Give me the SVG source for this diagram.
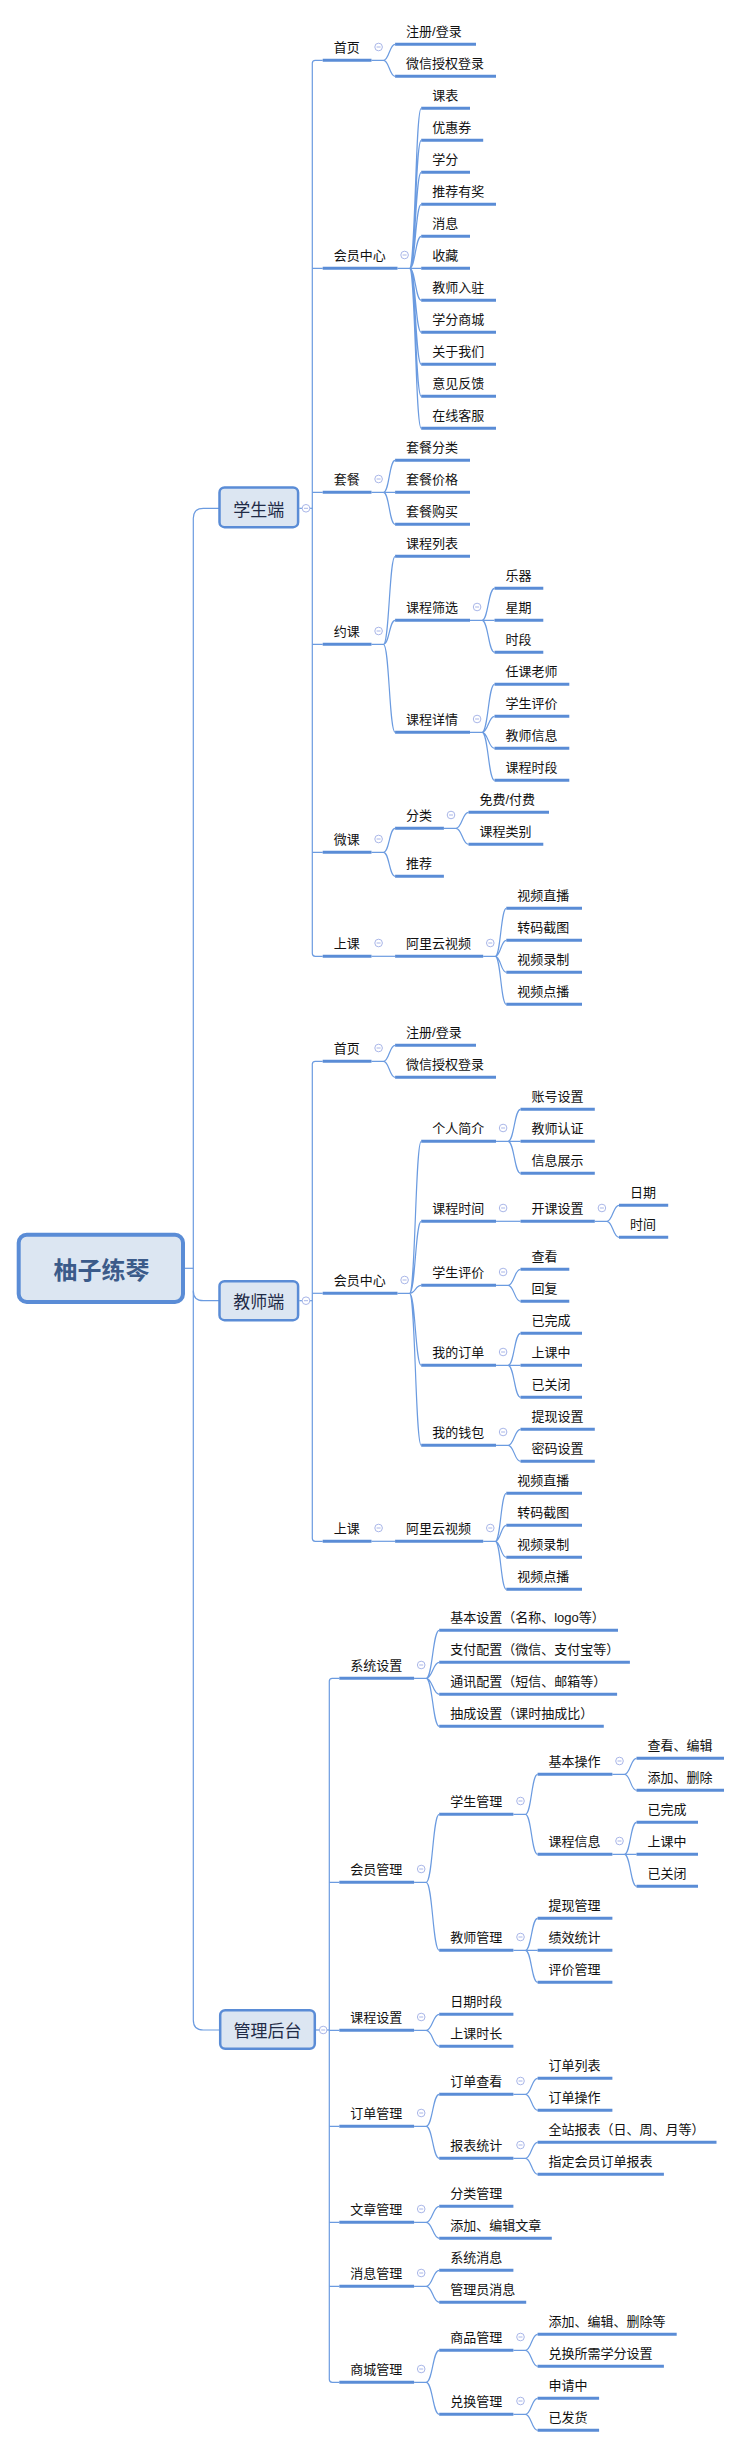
<svg xmlns="http://www.w3.org/2000/svg" xmlns:xlink="http://www.w3.org/1999/xlink" width="742" height="2447" viewBox="0 0 742 2447">
<defs>
<style>
text{font-family:"Liberation Sans","Noto Sans CJK SC",sans-serif;font-size:13px;fill:#111}
.u{stroke:#5a8cd6;stroke-width:3;fill:none}
.c{stroke:#6b9be0;stroke-width:1.2;fill:none}
.box{fill:#dce6f2;stroke:#5a8cd6;stroke-width:2.5}
.bt{font-size:17px;fill:#1f2b47;text-anchor:middle}
.rt{font-size:24px;font-weight:bold;fill:#3b5b8a;text-anchor:middle}
.col circle{fill:#fff;stroke:#a9b6e8;stroke-width:1}
.col path{stroke:#a9b6e8;stroke-width:1}
</style>
<g id="col" class="col"><circle r="3.8"/><path d="M-2 0H2"/></g>
</defs>
<rect width="742" height="2447" fill="#fff"/>

<g id="connectors">
<!-- root -->
<path class="c" d="M184.6 1268.3H193.3"/>
<path class="c" d="M219 508.3H203.3Q193.3 508.3 193.3 518.3V2020Q193.3 2030 203.3 2030H219"/>
<path class="c" d="M193.3 1290.7Q193.3 1300.7 203.3 1300.7H219"/>
<!-- student level1 -->
<path class="c" d="M299.3 508.3H312.3"/>
<path class="c" d="M322.7 60.3H315.3Q312.3 60.3 312.3 63.3V953.3Q312.3 956.3 315.3 956.3H322.7"/>
<path class="c" d="M312.3 268.3H322.7M312.3 492.3H322.7M312.3 644.3H322.7M312.3 852.3H322.7"/>
<!-- student 首页 -->
<path class="c" d="M371.5 60.3H383.5M383.5 60.3C389.3 60.3 389.3 44.3 395.1 44.3M383.5 60.3C389.3 60.3 389.3 76.3 395.1 76.3"/>
<!-- student 会员中心 -->
<path class="c" d="M397.5 268.3H421.2M409.5 268.3C415.4 268.3 415.4 108.3 421.2 108.3M409.5 268.3C415.4 268.3 415.4 140.3 421.2 140.3M409.5 268.3C415.4 268.3 415.4 172.3 421.2 172.3M409.5 268.3C415.4 268.3 415.4 204.3 421.2 204.3M409.5 268.3C415.4 268.3 415.4 236.3 421.2 236.3M409.5 268.3C415.4 268.3 415.4 300.3 421.2 300.3M409.5 268.3C415.4 268.3 415.4 332.3 421.2 332.3M409.5 268.3C415.4 268.3 415.4 364.3 421.2 364.3M409.5 268.3C415.4 268.3 415.4 396.3 421.2 396.3M409.5 268.3C415.4 268.3 415.4 428.3 421.2 428.3"/>
<!-- 套餐 -->
<path class="c" d="M371.5 492.3H395.1M383.5 492.3C389.3 492.3 389.3 460.3 395.1 460.3M383.5 492.3C389.3 492.3 389.3 524.3 395.1 524.3"/>
<!-- 约课 -->
<path class="c" d="M371.5 644.3H383.5M383.5 644.3C389.3 644.3 389.3 556.3 395.1 556.3M383.5 644.3C389.3 644.3 389.3 620.3 395.1 620.3M383.5 644.3C389.3 644.3 389.3 732.3 395.1 732.3"/>
<path class="c" d="M470 620.3H494.5M482 620.3C488.3 620.3 488.3 588.3 494.5 588.3M482 620.3C488.3 620.3 488.3 652.3 494.5 652.3"/>
<path class="c" d="M470 732.3H482M482 732.3C488.3 732.3 488.3 684.3 494.5 684.3M482 732.3C488.3 732.3 488.3 716.3 494.5 716.3M482 732.3C488.3 732.3 488.3 748.3 494.5 748.3M482 732.3C488.3 732.3 488.3 780.3 494.5 780.3"/>
<!-- 微课 -->
<path class="c" d="M371.5 852.3H383.5M383.5 852.3C389.3 852.3 389.3 828.3 395.1 828.3M383.5 852.3C389.3 852.3 389.3 876.3 395.1 876.3"/>
<path class="c" d="M443.9 828.3H455.9M455.9 828.3C462.2 828.3 462.2 812.3 468.5 812.3M455.9 828.3C462.2 828.3 462.2 844.3 468.5 844.3"/>
<!-- 上课 student -->
<path class="c" d="M371.5 956.3H395.1"/>
<path class="c" d="M483.2 956.3H495.2M495.2 956.3C500.8 956.3 500.8 908.3 506.3 908.3M495.2 956.3C500.8 956.3 500.8 940.3 506.3 940.3M495.2 956.3C500.8 956.3 500.8 972.3 506.3 972.3M495.2 956.3C500.8 956.3 500.8 1004.3 506.3 1004.3"/>

<!-- teacher level1 -->
<path class="c" d="M299.3 1300.7H312.3"/>
<path class="c" d="M322.7 1061.3H315.3Q312.3 1061.3 312.3 1064.3V1538.3Q312.3 1541.3 315.3 1541.3H322.7"/>
<path class="c" d="M312.3 1293.3H322.7"/>
<path class="c" d="M371.5 1061.3H383.5M383.5 1061.3C389.3 1061.3 389.3 1045.3 395.1 1045.3M383.5 1061.3C389.3 1061.3 389.3 1077.3 395.1 1077.3"/>
<path class="c" d="M397.5 1293.3H409.5M409.5 1293.3C415.4 1293.3 415.4 1141.3 421.2 1141.3M409.5 1293.3C415.4 1293.3 415.4 1221.3 421.2 1221.3M409.5 1293.3C415.4 1293.3 415.4 1285.3 421.2 1285.3M409.5 1293.3C415.4 1293.3 415.4 1365.3 421.2 1365.3M409.5 1293.3C415.4 1293.3 415.4 1445.3 421.2 1445.3"/>
<path class="c" d="M496 1141.3H520.5M508 1141.3C514.3 1141.3 514.3 1109.3 520.5 1109.3M508 1141.3C514.3 1141.3 514.3 1173.3 520.5 1173.3"/>
<path class="c" d="M496 1221.3H520.5"/>
<path class="c" d="M594.8 1221.3H606.8M606.8 1221.3C612.9 1221.3 612.9 1205.3 619 1205.3M606.8 1221.3C612.9 1221.3 612.9 1237.3 619 1237.3"/>
<path class="c" d="M496 1285.3H508M508 1285.3C514.3 1285.3 514.3 1269.3 520.5 1269.3M508 1285.3C514.3 1285.3 514.3 1301.3 520.5 1301.3"/>
<path class="c" d="M496 1365.3H520.5M508 1365.3C514.3 1365.3 514.3 1333.3 520.5 1333.3M508 1365.3C514.3 1365.3 514.3 1397.3 520.5 1397.3"/>
<path class="c" d="M496 1445.3H508M508 1445.3C514.3 1445.3 514.3 1429.3 520.5 1429.3M508 1445.3C514.3 1445.3 514.3 1461.3 520.5 1461.3"/>
<path class="c" d="M371.5 1541.3H395.1"/>
<path class="c" d="M483.2 1541.3H495.2M495.2 1541.3C500.8 1541.3 500.8 1493.3 506.3 1493.3M495.2 1541.3C500.8 1541.3 500.8 1525.3 506.3 1525.3M495.2 1541.3C500.8 1541.3 500.8 1557.3 506.3 1557.3M495.2 1541.3C500.8 1541.3 500.8 1589.3 506.3 1589.3"/>

<!-- admin level1 -->
<path class="c" d="M316 2030H329.3"/>
<path class="c" d="M339.3 1678.3H332.3Q329.3 1678.3 329.3 1681.3V2379.3Q329.3 2382.3 332.3 2382.3H339.3"/>
<path class="c" d="M329.3 1882.3H339.3M329.3 2030.3H339.3M329.3 2126.3H339.3M329.3 2222.3H339.3M329.3 2286.3H339.3"/>
<path class="c" d="M414.1 1678.3H426.1M426.1 1678.3C432.7 1678.3 432.7 1630.3 439.2 1630.3M426.1 1678.3C432.7 1678.3 432.7 1662.3 439.2 1662.3M426.1 1678.3C432.7 1678.3 432.7 1694.3 439.2 1694.3M426.1 1678.3C432.7 1678.3 432.7 1726.3 439.2 1726.3"/>
<path class="c" d="M414.1 1882.3H426.1M426.1 1882.3C432.7 1882.3 432.7 1814.3 439.2 1814.3M426.1 1882.3C432.7 1882.3 432.7 1950.3 439.2 1950.3"/>
<path class="c" d="M513.4 1814.3H525.4M525.4 1814.3C531.5 1814.3 531.5 1774.3 537.6 1774.3M525.4 1814.3C531.5 1814.3 531.5 1854.3 537.6 1854.3"/>
<path class="c" d="M612.4 1774.3H624.4M624.4 1774.3C630.5 1774.3 630.5 1758.3 636.5 1758.3M624.4 1774.3C630.5 1774.3 630.5 1790.3 636.5 1790.3"/>
<path class="c" d="M612.4 1854.3H636.5M624.4 1854.3C630.5 1854.3 630.5 1822.3 636.5 1822.3M624.4 1854.3C630.5 1854.3 630.5 1886.3 636.5 1886.3"/>
<path class="c" d="M513.4 1950.3H537.6M525.4 1950.3C531.5 1950.3 531.5 1918.3 537.6 1918.3M525.4 1950.3C531.5 1950.3 531.5 1982.3 537.6 1982.3"/>
<path class="c" d="M414.1 2030.3H426.1M426.1 2030.3C432.7 2030.3 432.7 2014.3 439.2 2014.3M426.1 2030.3C432.7 2030.3 432.7 2046.3 439.2 2046.3"/>
<path class="c" d="M414.1 2126.3H426.1M426.1 2126.3C432.7 2126.3 432.7 2094.3 439.2 2094.3M426.1 2126.3C432.7 2126.3 432.7 2158.3 439.2 2158.3"/>
<path class="c" d="M513.4 2094.3H525.4M525.4 2094.3C531.5 2094.3 531.5 2078.3 537.6 2078.3M525.4 2094.3C531.5 2094.3 531.5 2110.3 537.6 2110.3"/>
<path class="c" d="M513.4 2158.3H525.4M525.4 2158.3C531.5 2158.3 531.5 2142.3 537.6 2142.3M525.4 2158.3C531.5 2158.3 531.5 2174.3 537.6 2174.3"/>
<path class="c" d="M414.1 2222.3H426.1M426.1 2222.3C432.7 2222.3 432.7 2206.3 439.2 2206.3M426.1 2222.3C432.7 2222.3 432.7 2238.3 439.2 2238.3"/>
<path class="c" d="M414.1 2286.3H426.1M426.1 2286.3C432.7 2286.3 432.7 2270.3 439.2 2270.3M426.1 2286.3C432.7 2286.3 432.7 2302.3 439.2 2302.3"/>
<path class="c" d="M414.1 2382.3H426.1M426.1 2382.3C432.7 2382.3 432.7 2350.3 439.2 2350.3M426.1 2382.3C432.7 2382.3 432.7 2414.3 439.2 2414.3"/>
<path class="c" d="M513.4 2350.3H525.4M525.4 2350.3C531.5 2350.3 531.5 2334.3 537.6 2334.3M525.4 2350.3C531.5 2350.3 531.5 2366.3 537.6 2366.3"/>
<path class="c" d="M513.4 2414.3H525.4M525.4 2414.3C531.5 2414.3 531.5 2398.3 537.6 2398.3M525.4 2414.3C531.5 2414.3 531.5 2430.3 537.6 2430.3"/>
</g>

<!-- boxes -->
<g id="root"><rect class="box" x="18.7" y="1234.7" width="164.3" height="67.3" rx="8" style="stroke-width:4"/><text class="rt" x="101.6" y="1279">柚子练琴</text></g>
<g id="student"><rect class="box" x="219.5" y="487.5" width="78.6" height="39.7" rx="5"/><text class="bt" x="258.8" y="515.5">学生端</text><use xlink:href="#col" x="306" y="508.3"/></g>
<g id="teacher"><rect class="box" x="219.5" y="1281.2" width="78.6" height="39" rx="5"/><text class="bt" x="258.8" y="1307.5">教师端</text><use xlink:href="#col" x="306" y="1300.7"/></g>
<g id="admin"><rect class="box" x="220.2" y="2010.2" width="94.6" height="38.6" rx="5"/><text class="bt" x="267.5" y="2036.5">管理后台</text><use xlink:href="#col" x="323.2" y="2030"/></g>

<!-- student nodes -->
<g id="s-home"><path class="u" d="M322.7 60.3H371.5"/><text x="333.7" y="52.3">首页</text><use xlink:href="#col" x="378.6" y="47"/></g>
<g id="s-home-1"><path class="u" d="M395.1 44.3H476"/><text x="406.1" y="36.3">注册/登录</text></g>
<g id="s-home-2"><path class="u" d="M395.1 76.3H496"/><text x="406.1" y="68.3">微信授权登录</text></g>
<g id="s-member"><path class="u" d="M322.7 268.3H397.5"/><text x="333.7" y="260.3">会员中心</text><use xlink:href="#col" x="404.6" y="255"/></g>
<g id="s-m1"><path class="u" d="M421.2 108.3H470"/><text x="432.2" y="100.3">课表</text></g>
<g id="s-m2"><path class="u" d="M421.2 140.3H483.2"/><text x="432.2" y="132.3">优惠券</text></g>
<g id="s-m3"><path class="u" d="M421.2 172.3H470"/><text x="432.2" y="164.3">学分</text></g>
<g id="s-m4"><path class="u" d="M421.2 204.3H496"/><text x="432.2" y="196.3">推荐有奖</text></g>
<g id="s-m5"><path class="u" d="M421.2 236.3H470"/><text x="432.2" y="228.3">消息</text></g>
<g id="s-m6"><path class="u" d="M421.2 268.3H470"/><text x="432.2" y="260.3">收藏</text></g>
<g id="s-m7"><path class="u" d="M421.2 300.3H496"/><text x="432.2" y="292.3">教师入驻</text></g>
<g id="s-m8"><path class="u" d="M421.2 332.3H496"/><text x="432.2" y="324.3">学分商城</text></g>
<g id="s-m9"><path class="u" d="M421.2 364.3H496"/><text x="432.2" y="356.3">关于我们</text></g>
<g id="s-m10"><path class="u" d="M421.2 396.3H496"/><text x="432.2" y="388.3">意见反馈</text></g>
<g id="s-m11"><path class="u" d="M421.2 428.3H496"/><text x="432.2" y="420.3">在线客服</text></g>
<g id="s-pkg"><path class="u" d="M322.7 492.3H371.5"/><text x="333.7" y="484.3">套餐</text><use xlink:href="#col" x="378.6" y="479"/></g>
<g id="s-p1"><path class="u" d="M395.1 460.3H470"/><text x="406.1" y="452.3">套餐分类</text></g>
<g id="s-p2"><path class="u" d="M395.1 492.3H470"/><text x="406.1" y="484.3">套餐价格</text></g>
<g id="s-p3"><path class="u" d="M395.1 524.3H470"/><text x="406.1" y="516.3">套餐购买</text></g>
<g id="s-book"><path class="u" d="M322.7 644.3H371.5"/><text x="333.7" y="636.3">约课</text><use xlink:href="#col" x="378.6" y="631"/></g>
<g id="s-b1"><path class="u" d="M395.1 556.3H470"/><text x="406.1" y="548.3">课程列表</text></g>
<g id="s-b2"><path class="u" d="M395.1 620.3H470"/><text x="406.1" y="612.3">课程筛选</text><use xlink:href="#col" x="477.1" y="607"/></g>
<g id="s-b2-1"><path class="u" d="M494.5 588.3H543.3"/><text x="505.5" y="580.3">乐器</text></g>
<g id="s-b2-2"><path class="u" d="M494.5 620.3H543.3"/><text x="505.5" y="612.3">星期</text></g>
<g id="s-b2-3"><path class="u" d="M494.5 652.3H543.3"/><text x="505.5" y="644.3">时段</text></g>
<g id="s-b3"><path class="u" d="M395.1 732.3H470"/><text x="406.1" y="724.3">课程详情</text><use xlink:href="#col" x="477.1" y="719"/></g>
<g id="s-b3-1"><path class="u" d="M494.5 684.3H569.3"/><text x="505.5" y="676.3">任课老师</text></g>
<g id="s-b3-2"><path class="u" d="M494.5 716.3H569.3"/><text x="505.5" y="708.3">学生评价</text></g>
<g id="s-b3-3"><path class="u" d="M494.5 748.3H569.3"/><text x="505.5" y="740.3">教师信息</text></g>
<g id="s-b3-4"><path class="u" d="M494.5 780.3H569.3"/><text x="505.5" y="772.3">课程时段</text></g>
<g id="s-micro"><path class="u" d="M322.7 852.3H371.5"/><text x="333.7" y="844.3">微课</text><use xlink:href="#col" x="378.6" y="839"/></g>
<g id="s-mc1"><path class="u" d="M395.1 828.3H443.9"/><text x="406.1" y="820.3">分类</text><use xlink:href="#col" x="451" y="815"/></g>
<g id="s-mc1-1"><path class="u" d="M468.5 812.3H549"/><text x="479.5" y="804.3">免费/付费</text></g>
<g id="s-mc1-2"><path class="u" d="M468.5 844.3H543.3"/><text x="479.5" y="836.3">课程类别</text></g>
<g id="s-mc2"><path class="u" d="M395.1 876.3H443.9"/><text x="406.1" y="868.3">推荐</text></g>
<g id="s-class"><path class="u" d="M322.7 956.3H371.5"/><text x="333.7" y="948.3">上课</text><use xlink:href="#col" x="378.6" y="943"/></g>
<g id="s-ali"><path class="u" d="M395.1 956.3H483.2"/><text x="406.1" y="948.3">阿里云视频</text><use xlink:href="#col" x="490.3" y="943"/></g>
<g id="s-ali-1"><path class="u" d="M506.3 908.3H582"/><text x="517.3" y="900.3">视频直播</text></g>
<g id="s-ali-2"><path class="u" d="M506.3 940.3H582"/><text x="517.3" y="932.3">转码截图</text></g>
<g id="s-ali-3"><path class="u" d="M506.3 972.3H582"/><text x="517.3" y="964.3">视频录制</text></g>
<g id="s-ali-4"><path class="u" d="M506.3 1004.3H582"/><text x="517.3" y="996.3">视频点播</text></g>

<!-- teacher nodes -->
<g id="t-home"><path class="u" d="M322.7 1061.3H371.5"/><text x="333.7" y="1053.3">首页</text><use xlink:href="#col" x="378.6" y="1048"/></g>
<g id="t-home-1"><path class="u" d="M395.1 1045.3H476"/><text x="406.1" y="1037.3">注册/登录</text></g>
<g id="t-home-2"><path class="u" d="M395.1 1077.3H496"/><text x="406.1" y="1069.3">微信授权登录</text></g>
<g id="t-member"><path class="u" d="M322.7 1293.3H397.5"/><text x="333.7" y="1285.3">会员中心</text><use xlink:href="#col" x="404.6" y="1280"/></g>
<g id="t-m1"><path class="u" d="M421.2 1141.3H496"/><text x="432.2" y="1133.3">个人简介</text><use xlink:href="#col" x="503.1" y="1128"/></g>
<g id="t-m1-1"><path class="u" d="M520.5 1109.3H594.8"/><text x="531.5" y="1101.3">账号设置</text></g>
<g id="t-m1-2"><path class="u" d="M520.5 1141.3H594.8"/><text x="531.5" y="1133.3">教师认证</text></g>
<g id="t-m1-3"><path class="u" d="M520.5 1173.3H594.8"/><text x="531.5" y="1165.3">信息展示</text></g>
<g id="t-m2"><path class="u" d="M421.2 1221.3H496"/><text x="432.2" y="1213.3">课程时间</text><use xlink:href="#col" x="503.1" y="1208"/></g>
<g id="t-m2-1"><path class="u" d="M520.5 1221.3H594.8"/><text x="531.5" y="1213.3">开课设置</text><use xlink:href="#col" x="601.9" y="1208"/></g>
<g id="t-m2-1a"><path class="u" d="M619 1205.3H668.2"/><text x="630" y="1197.3">日期</text></g>
<g id="t-m2-1b"><path class="u" d="M619 1237.3H668.2"/><text x="630" y="1229.3">时间</text></g>
<g id="t-m3"><path class="u" d="M421.2 1285.3H496"/><text x="432.2" y="1277.3">学生评价</text><use xlink:href="#col" x="503.1" y="1272"/></g>
<g id="t-m3-1"><path class="u" d="M520.5 1269.3H569.3"/><text x="531.5" y="1261.3">查看</text></g>
<g id="t-m3-2"><path class="u" d="M520.5 1301.3H569.3"/><text x="531.5" y="1293.3">回复</text></g>
<g id="t-m4"><path class="u" d="M421.2 1365.3H496"/><text x="432.2" y="1357.3">我的订单</text><use xlink:href="#col" x="503.1" y="1352"/></g>
<g id="t-m4-1"><path class="u" d="M520.5 1333.3H582"/><text x="531.5" y="1325.3">已完成</text></g>
<g id="t-m4-2"><path class="u" d="M520.5 1365.3H582"/><text x="531.5" y="1357.3">上课中</text></g>
<g id="t-m4-3"><path class="u" d="M520.5 1397.3H582"/><text x="531.5" y="1389.3">已关闭</text></g>
<g id="t-m5"><path class="u" d="M421.2 1445.3H496"/><text x="432.2" y="1437.3">我的钱包</text><use xlink:href="#col" x="503.1" y="1432"/></g>
<g id="t-m5-1"><path class="u" d="M520.5 1429.3H594.8"/><text x="531.5" y="1421.3">提现设置</text></g>
<g id="t-m5-2"><path class="u" d="M520.5 1461.3H594.8"/><text x="531.5" y="1453.3">密码设置</text></g>
<g id="t-class"><path class="u" d="M322.7 1541.3H371.5"/><text x="333.7" y="1533.3">上课</text><use xlink:href="#col" x="378.6" y="1528"/></g>
<g id="t-ali"><path class="u" d="M395.1 1541.3H483.2"/><text x="406.1" y="1533.3">阿里云视频</text><use xlink:href="#col" x="490.3" y="1528"/></g>
<g id="t-ali-1"><path class="u" d="M506.3 1493.3H582"/><text x="517.3" y="1485.3">视频直播</text></g>
<g id="t-ali-2"><path class="u" d="M506.3 1525.3H582"/><text x="517.3" y="1517.3">转码截图</text></g>
<g id="t-ali-3"><path class="u" d="M506.3 1557.3H582"/><text x="517.3" y="1549.3">视频录制</text></g>
<g id="t-ali-4"><path class="u" d="M506.3 1589.3H582"/><text x="517.3" y="1581.3">视频点播</text></g>

<!-- admin nodes -->
<g id="a-sys"><path class="u" d="M339.3 1678.3H414.1"/><text x="350.3" y="1670.3">系统设置</text><use xlink:href="#col" x="421.2" y="1665"/></g>
<g id="a-sys-1"><path class="u" d="M439.2 1630.3H618"/><text x="450.2" y="1622.3">基本设置（名称、logo等）</text></g>
<g id="a-sys-2"><path class="u" d="M439.2 1662.3H629.9"/><text x="450.2" y="1654.3">支付配置（微信、支付宝等）</text></g>
<g id="a-sys-3"><path class="u" d="M439.2 1694.3H617.1"/><text x="450.2" y="1686.3">通讯配置（短信、邮箱等）</text></g>
<g id="a-sys-4"><path class="u" d="M439.2 1726.3H603.8"/><text x="450.2" y="1718.3">抽成设置（课时抽成比）</text></g>
<g id="a-mem"><path class="u" d="M339.3 1882.3H414.1"/><text x="350.3" y="1874.3">会员管理</text><use xlink:href="#col" x="421.2" y="1869"/></g>
<g id="a-mem-s"><path class="u" d="M439.2 1814.3H513.4"/><text x="450.2" y="1806.3">学生管理</text><use xlink:href="#col" x="520.5" y="1801"/></g>
<g id="a-mem-s1"><path class="u" d="M537.6 1774.3H612.4"/><text x="548.6" y="1766.3">基本操作</text><use xlink:href="#col" x="619.5" y="1761"/></g>
<g id="a-mem-s1a"><path class="u" d="M636.5 1758.3H724"/><text x="647.5" y="1750.3">查看、编辑</text></g>
<g id="a-mem-s1b"><path class="u" d="M636.5 1790.3H724"/><text x="647.5" y="1782.3">添加、删除</text></g>
<g id="a-mem-s2"><path class="u" d="M537.6 1854.3H612.4"/><text x="548.6" y="1846.3">课程信息</text><use xlink:href="#col" x="619.5" y="1841"/></g>
<g id="a-mem-s2a"><path class="u" d="M636.5 1822.3H698"/><text x="647.5" y="1814.3">已完成</text></g>
<g id="a-mem-s2b"><path class="u" d="M636.5 1854.3H698"/><text x="647.5" y="1846.3">上课中</text></g>
<g id="a-mem-s2c"><path class="u" d="M636.5 1886.3H698"/><text x="647.5" y="1878.3">已关闭</text></g>
<g id="a-mem-t"><path class="u" d="M439.2 1950.3H513.4"/><text x="450.2" y="1942.3">教师管理</text><use xlink:href="#col" x="520.5" y="1937"/></g>
<g id="a-mem-t1"><path class="u" d="M537.6 1918.3H612.4"/><text x="548.6" y="1910.3">提现管理</text></g>
<g id="a-mem-t2"><path class="u" d="M537.6 1950.3H612.4"/><text x="548.6" y="1942.3">绩效统计</text></g>
<g id="a-mem-t3"><path class="u" d="M537.6 1982.3H612.4"/><text x="548.6" y="1974.3">评价管理</text></g>
<g id="a-course"><path class="u" d="M339.3 2030.3H414.1"/><text x="350.3" y="2022.3">课程设置</text><use xlink:href="#col" x="421.2" y="2017"/></g>
<g id="a-course-1"><path class="u" d="M439.2 2014.3H513.4"/><text x="450.2" y="2006.3">日期时段</text></g>
<g id="a-course-2"><path class="u" d="M439.2 2046.3H513.4"/><text x="450.2" y="2038.3">上课时长</text></g>
<g id="a-order"><path class="u" d="M339.3 2126.3H414.1"/><text x="350.3" y="2118.3">订单管理</text><use xlink:href="#col" x="421.2" y="2113"/></g>
<g id="a-order-1"><path class="u" d="M439.2 2094.3H513.4"/><text x="450.2" y="2086.3">订单查看</text><use xlink:href="#col" x="520.5" y="2081"/></g>
<g id="a-order-1a"><path class="u" d="M537.6 2078.3H612.4"/><text x="548.6" y="2070.3">订单列表</text></g>
<g id="a-order-1b"><path class="u" d="M537.6 2110.3H612.4"/><text x="548.6" y="2102.3">订单操作</text></g>
<g id="a-order-2"><path class="u" d="M439.2 2158.3H513.4"/><text x="450.2" y="2150.3">报表统计</text><use xlink:href="#col" x="520.5" y="2145"/></g>
<g id="a-order-2a"><path class="u" d="M537.6 2142.3H716.5"/><text x="548.6" y="2134.3">全站报表（日、周、月等）</text></g>
<g id="a-order-2b"><path class="u" d="M537.6 2174.3H663.9"/><text x="548.6" y="2166.3">指定会员订单报表</text></g>
<g id="a-article"><path class="u" d="M339.3 2222.3H414.1"/><text x="350.3" y="2214.3">文章管理</text><use xlink:href="#col" x="421.2" y="2209"/></g>
<g id="a-article-1"><path class="u" d="M439.2 2206.3H513.4"/><text x="450.2" y="2198.3">分类管理</text></g>
<g id="a-article-2"><path class="u" d="M439.2 2238.3H551.8"/><text x="450.2" y="2230.3">添加、编辑文章</text></g>
<g id="a-msg"><path class="u" d="M339.3 2286.3H414.1"/><text x="350.3" y="2278.3">消息管理</text><use xlink:href="#col" x="421.2" y="2273"/></g>
<g id="a-msg-1"><path class="u" d="M439.2 2270.3H513.4"/><text x="450.2" y="2262.3">系统消息</text></g>
<g id="a-msg-2"><path class="u" d="M439.2 2302.3H526.2"/><text x="450.2" y="2294.3">管理员消息</text></g>
<g id="a-shop"><path class="u" d="M339.3 2382.3H414.1"/><text x="350.3" y="2374.3">商城管理</text><use xlink:href="#col" x="421.2" y="2369"/></g>
<g id="a-shop-1"><path class="u" d="M439.2 2350.3H513.4"/><text x="450.2" y="2342.3">商品管理</text><use xlink:href="#col" x="520.5" y="2337"/></g>
<g id="a-shop-1a"><path class="u" d="M537.6 2334.3H676.7"/><text x="548.6" y="2326.3">添加、编辑、删除等</text></g>
<g id="a-shop-1b"><path class="u" d="M537.6 2366.3H663.9"/><text x="548.6" y="2358.3">兑换所需学分设置</text></g>
<g id="a-shop-2"><path class="u" d="M439.2 2414.3H513.4"/><text x="450.2" y="2406.3">兑换管理</text><use xlink:href="#col" x="520.5" y="2401"/></g>
<g id="a-shop-2a"><path class="u" d="M537.6 2398.3H599.1"/><text x="548.6" y="2390.3">申请中</text></g>
<g id="a-shop-2b"><path class="u" d="M537.6 2430.3H599.1"/><text x="548.6" y="2422.3">已发货</text></g>
</svg>
